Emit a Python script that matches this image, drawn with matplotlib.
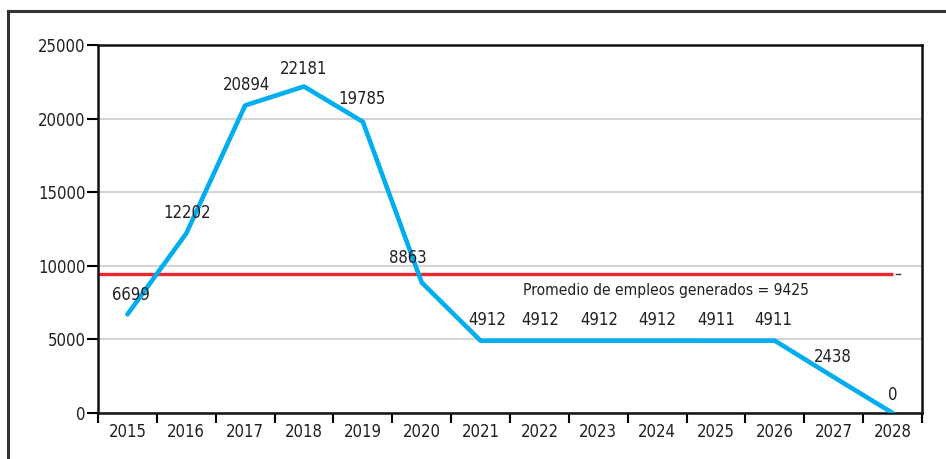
import matplotlib.pyplot as plt
from matplotlib.lines import Line2D

plt.rcParams['font.family'] = ['DejaVu Sans']
plt.rcParams['font.stretch'] = 'condensed'

years = ['2015', '2016', '2017', '2018', '2019', '2020', '2021',
         '2022', '2023', '2024', '2025', '2026', '2027', '2028']
empleos = [6699, 12202, 20894, 22181, 19785, 8863, 4912,
           4912, 4912, 4912, 4911, 4911, 2438, 0]
promedio = 9425

# label offsets in pixels (dx, dy) relative to each point
offsets = [(3, 19), (1, 20), (1, 20), (0, 17), (-1, 23), (-14, 25), (7, 21),
           (1, 21), (1, 21), (0, 21), (0, 21), (-2, 21), (-1, 20), (0, 18)]

fig = plt.figure(figsize=(9.46, 4.59), dpi=100)
W, H = 946, 459
ax = fig.add_axes([98 / W, 1 - 413 / H, 824 / W, 368 / H])

x = list(range(len(years)))
ax.plot(x, empleos, color='#00aeef', lw=3.3, solid_capstyle='round', zorder=3)
ax.hlines(promedio, -0.5, 13, color='#ed2630', lw=2.4, zorder=2)
ax.plot([13.05, 13.12], [promedio, promedio], color='#333333', lw=1)

fs = 12
for xi, v, (dx, dy) in zip(x, empleos, offsets):
    ax.annotate(str(v), (xi, v), xytext=(dx, dy), textcoords='offset pixels',
                ha='center', va='center', fontsize=fs, color='#231f20')

ax.text(9.15, promedio - 1075, 'Promedio de empleos generados = 9425',
        ha='center', va='center', fontsize=11.2, color='#231f20')

ax.set_xlim(-0.5, 13.5)
ax.set_ylim(0, 25000)
ax.set_yticks(range(0, 25001, 5000))
ax.yaxis.grid(True, color='#cccccc', lw=1.2)
ax.set_axisbelow(True)

ax.set_xticks([i - 0.5 for i in range(15)])
ax.set_xticklabels([])
ax.set_xticks(x, minor=True)
ax.set_xticklabels(years, minor=True)
ax.tick_params(axis='x', which='minor', length=0, pad=7, labelsize=fs, labelcolor='#231f20')
ax.tick_params(axis='x', which='major', length=7, width=1.5, direction='out')
ax.tick_params(axis='y', length=8, width=1.5, labelsize=fs, labelcolor='#231f20', pad=1)
for s in ax.spines.values():
    s.set_linewidth(1.8)
    s.set_color('#111111')

# outer frame (top and left edges visible)
fig.add_artist(Line2D([8 / W, 1], [1 - 11 / H, 1 - 11 / H], color='#333333', lw=2.2))
fig.add_artist(Line2D([8 / W, 8 / W], [0, 1 - 11 / H], color='#333333', lw=2.2))

fig.savefig('out.png', dpi=100)
